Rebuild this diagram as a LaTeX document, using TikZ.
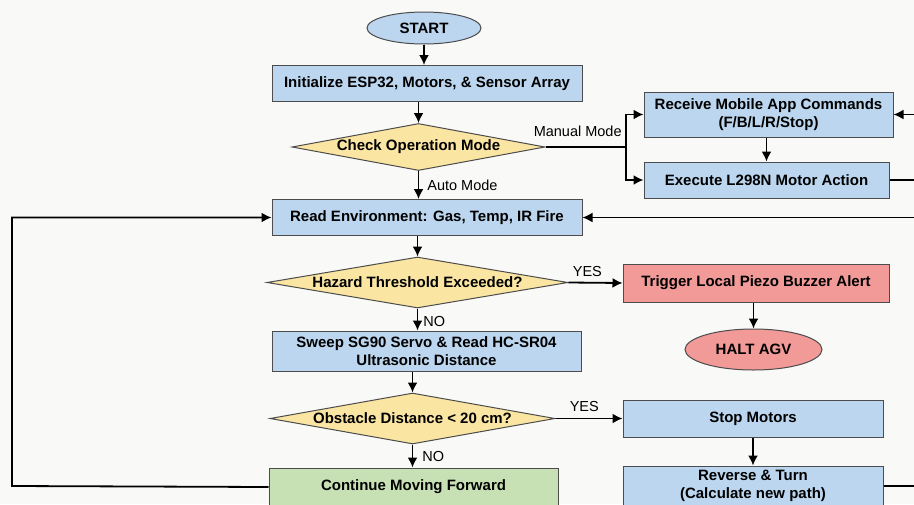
\documentclass[tikz,border=0pt]{standalone}
\usepackage{fontspec}
\setmainfont{Liberation Sans}
\usetikzlibrary{shapes.geometric,arrows.meta}
\definecolor{bgpaper}{RGB}{249,249,247}
\definecolor{boxblue}{RGB}{187,214,238}
\definecolor{boxyellow}{RGB}{250,229,163}
\definecolor{boxred}{RGB}{241,154,152}
\definecolor{boxgreen}{RGB}{199,225,181}
\newcommand\boxfont{\fontsize{15}{18}\selectfont\bfseries}
\newcommand\lblfont{\fontsize{14.5}{17}\selectfont}

\begin{document}
\begin{tikzpicture}[x=1pt,y=-1pt,
	proc/.style={rectangle,draw=black!70,line width=1pt,fill=boxblue,font=\boxfont,align=center,inner sep=0pt},
	decide/.style={diamond,draw=black!70,line width=1pt,fill=boxyellow,font=\boxfont,inner sep=0pt},
	term/.style={ellipse,draw=black!70,line width=1pt,font=\boxfont,inner sep=0pt},
	flow/.style={line width=1.8pt,-{Latex[length=10pt,width=10pt]}},
	wire/.style={line width=1.8pt},
	lbl/.style={font=\lblfont,inner sep=1pt}]
	% paper - must be drawn before the rest!
	\fill[bgpaper] (0,0) rectangle (914,504);
	\useasboundingbox (0,0) rectangle (914,504);
	% main column
	\node[term,fill=boxblue,minimum width=114pt,minimum height=32pt] (start) at (424,28) {START};
	\node[proc,minimum width=310pt,minimum height=36pt] (init) at (427,83.5) {Initialize ESP32, Motors, \& Sensor Array};
	\node[decide,aspect=5,minimum width=253pt,minimum height=47pt] (mode) at (418.5,147) {Check Operation Mode};
	\node[proc,minimum width=310pt,minimum height=36pt] (read) at (427,217.5) {Read Environment: Gas, Temp, IR Fire};
	\node[decide,aspect=5.5,minimum width=301pt,minimum height=51pt] (hazard) at (417.5,282.5) {Hazard Threshold Exceeded?};
	\node[proc,minimum width=309pt,minimum height=40pt] (sweep) at (426.5,351) {Sweep SG90 Servo \& Read HC-SR04\\Ultrasonic Distance};
	\node[decide,aspect=5.5,minimum width=285pt,minimum height=51pt] (obstacle) at (412.5,418.5) {Obstacle Distance < 20 cm?};
	\node[proc,fill=boxgreen,minimum width=289pt,minimum height=38pt] (cont) at (413.5,487) {Continue Moving Forward};
	% manual branch
	\node[proc,minimum width=249pt,minimum height=45pt] (receive) at (768.5,114.5) {Receive Mobile App Commands\\(F/B/L/R/Stop)};
	\node[proc,minimum width=245pt,minimum height=36pt] (execute) at (766.5,180) {Execute L298N Motor Action};
	% hazard branch
	\node[proc,fill=boxred,minimum width=266pt,minimum height=38pt] (trigger) at (756,283) {Trigger Local Piezo Buzzer Alert};
	\node[term,fill=boxred,minimum width=137pt,minimum height=41pt] (halt) at (753.5,349.5) {HALT AGV};
	% obstacle branch
	\node[proc,minimum width=260pt,minimum height=37pt] (stop) at (753,418.5) {Stop Motors};
	\node[proc,minimum width=260pt,minimum height=40pt] (reverse) at (753,486) {Reverse \& Turn\\(Calculate new path)};
	% free ends
	\coordinate (split) at (626,147);
	\coordinate (rin) at (914,114.5);
	\coordinate (rout) at (914,180);
	\coordinate (readin) at (914,217.5);
	\coordinate (revout) at (914,486);
	\coordinate (loop) at (12,486);
	% arrows of the main column
	\draw[flow] (start.south) -- (start.south |- init.north);
	\draw[flow] (init.south -| mode.north) -- (mode.north);
	\draw[flow] (mode.south) -- node[lbl,pos=0.5,right=7pt] (automode) {Auto Mode} (mode.south |- read.north);
	\draw[flow] (read.south -| hazard.north) -- (hazard.north);
	\draw[flow] (hazard.south) -- node[lbl,pos=0.57,right=4pt] (hazno) {NO} (hazard.south |- sweep.north);
	\draw[flow] (sweep.south -| obstacle.north) -- (obstacle.north);
	\draw[flow] (obstacle.south) -- node[lbl,pos=0.54,right=8pt] (obsno) {NO} (obstacle.south |- cont.north);
	% manual mode
	\draw[wire] (mode.east) -- node[lbl,pos=0.4,above=8pt] (manual) {Manual Mode} (split);
	\draw[flow] (split) |- (receive.west);
	\draw[flow] (split) |- (execute.west);
	\draw[flow] (receive.south -| execute.north) -- (execute.north);
	\draw[flow] (rin) -- (receive.east);
	\draw[wire] (execute.east) -- (rout);
	\draw[flow] (readin) -- (read.east);
	% the two YES branches
	\draw[flow] (hazard.east) -- node[lbl,pos=0.35,above=4.5pt] (hazyes) {YES} (trigger.west);
	\draw[flow] (trigger.south -| halt.north) -- (halt.north);
	\draw[flow] (obstacle.east) -- node[lbl,pos=0.43,above=4.5pt] (obsyes) {YES} (stop.west);
	\draw[flow] (stop.south) -- (stop.south |- reverse.north);
	\draw[wire] (reverse.east) -- (revout);
	% back to reading
	\draw[flow] (cont.west) -- (loop) |- (read.west);
\end{tikzpicture}
\end{document}
